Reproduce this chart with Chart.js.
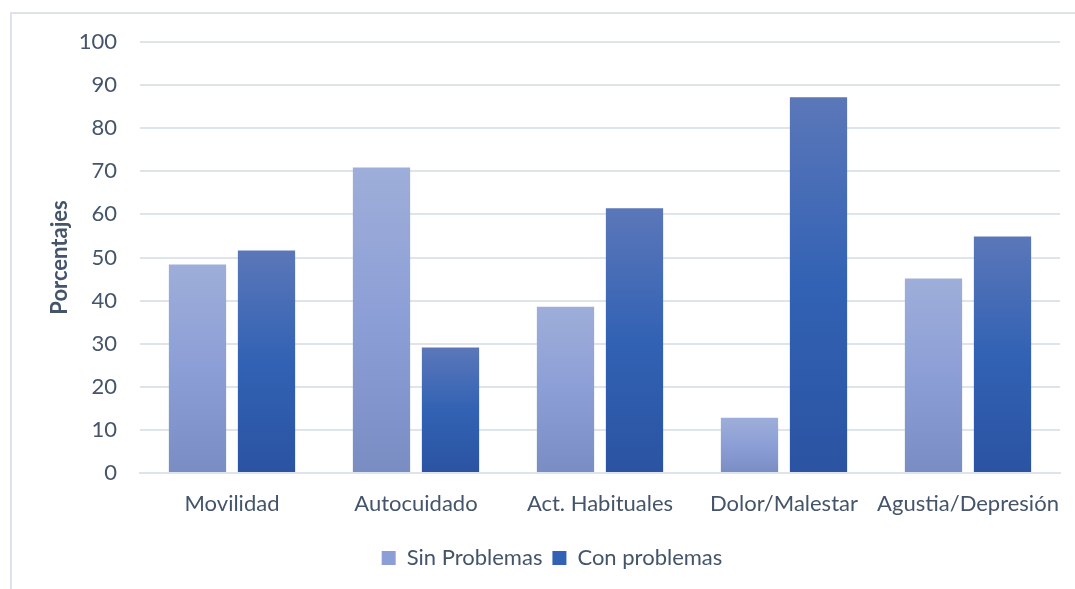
<!DOCTYPE html>
<html>
<head>
<meta charset="utf-8">
<script src="https://cdn.jsdelivr.net/npm/chart.js@4.4.1/dist/chart.umd.min.js"></script>
<style>
    html, body { margin: 0; padding: 0; background: #fff; }
    #wrap { position: relative; width: 1075px; height: 589px; }
    #frame { position: absolute; left: 10px; top: 12px; right: -4px; bottom: -4px; border: 2px solid #DEE3EB; }
    canvas { position: absolute; left: 0; top: 0; }
</style>
</head>
<body>
<div id="wrap">
    <div id="frame"></div>
    <canvas id="chart" width="1075" height="589"></canvas>
</div>
<script>
const categories = ['Movilidad', 'Autocuidado', 'Act. Habituales', 'Dolor/Malestar', 'Agustia/Depresión'];
const sinProblemas = [48.4, 70.9, 38.6, 12.8, 45.1];
const conProblemas = [51.6, 29.1, 61.4, 87.2, 54.9];

const TEXT = '#44546A';
const GRID = '#DFE4EB';
const FONT = 'Lato, "Open Sans", sans-serif';

// per-bar vertical gradient, lighter at top like the Excel fill
function barFill(stops, fallback) {
    return (ctx) => {
        const chart = ctx.chart;
        if (!chart.chartArea || ctx.type !== 'data') return fallback;
        const y = chart.scales.y;
        const top = y.getPixelForValue(ctx.raw);
        const bottom = y.getPixelForValue(0);
        const g = chart.ctx.createLinearGradient(0, top, 0, bottom);
        g.addColorStop(0, stops[0]);
        g.addColorStop(0.5, stops[1]);
        g.addColorStop(1, stops[2]);
        return g;
    };
}

// legend sits a bit right of the canvas centre in the original
const nudgeLegend = {
    id: 'nudgeLegend',
    afterLayout(chart) {
        chart.legend.left += 17;
        chart.legend.right += 17;
    },
};

new Chart(document.getElementById('chart'), {
    type: 'bar',
    data: {
        labels: categories,
        datasets: [
            {
                label: 'Sin Problemas',
                data: sinProblemas,
                backgroundColor: barFill(['#9EAED9', '#8C9ED6', '#7A8DC3'], '#8C9ED6'),
                categoryPercentage: 0.75,
                barPercentage: 0.83,
            },
            {
                label: 'Con problemas',
                data: conProblemas,
                backgroundColor: barFill(['#5B77B9', '#3262B4', '#2B53A2'], '#3262B4'),
                categoryPercentage: 0.75,
                barPercentage: 0.83,
            },
        ],
    },
    plugins: [nudgeLegend],
    options: {
        responsive: false,
        animation: false,
        layout: { padding: { left: 10, top: 42, right: 15, bottom: 10 } },
        plugins: {
            tooltip: { enabled: false },
            legend: {
                position: 'bottom',
                labels: {
                    color: TEXT,
                    font: { family: FONT, size: 22 },
                    boxWidth: 14,
                    boxHeight: 14,
                    padding: 10,
                    generateLabels: (chart) => chart.data.datasets.map((ds, i) => ({
                        text: ds.label,
                        fillStyle: i === 0 ? '#8C9ED6' : '#3262B4',
                        strokeStyle: 'transparent',
                        lineWidth: 0,
                        fontColor: TEXT,
                        datasetIndex: i,
                    })),
                },
            },
        },
        scales: {
            x: {
                grid: { display: false, drawTicks: false },
                border: { display: true, color: GRID, width: 2 },
                ticks: { color: TEXT, font: { family: FONT, size: 22 }, padding: 18, maxRotation: 0, autoSkip: false },
                afterFit: (scale) => {
                    scale.height = 64;
                    scale.paddingLeft = 0;
                    scale.paddingRight = 0;
                },
            },
            y: {
                min: 0,
                max: 100,
                ticks: { stepSize: 10, color: TEXT, font: { family: FONT, size: 22 }, padding: 23 },
                grid: { color: GRID, lineWidth: 2, drawTicks: false },
                border: { display: false },
                title: {
                    display: true,
                    text: 'Porcentajes',
                    color: TEXT,
                    font: { family: FONT, size: 22, weight: 'bold' },
                    padding: { top: 37, bottom: 0 },
                },
                afterFit: (scale) => { scale.width = 130; },
            },
        },
    },
});
</script>
</body>
</html>
